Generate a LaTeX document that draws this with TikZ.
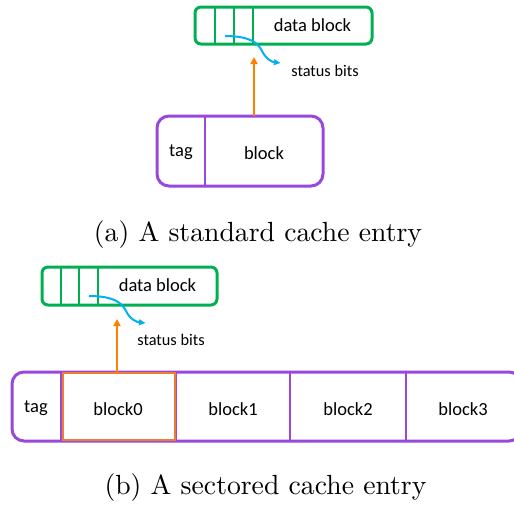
\documentclass[tikz,border=0pt]{standalone}
\usepackage{fontspec}
\newfontfamily\carlitofont{Carlito}
\newfontfamily\lmtenfont{lmroman10-regular.otf}
\usetikzlibrary{arrows.meta}
\definecolor{mygreen}{RGB}{0,176,80}
\definecolor{mypurple}{RGB}{153,72,222}
\definecolor{myorange}{RGB}{237,125,49}
\definecolor{myorange2}{RGB}{255,128,0}
\definecolor{myblue}{RGB}{0,176,240}
\begin{document}
\begin{tikzpicture}[x=1pt,y=-1pt,
  gbox/.style={draw=mygreen,line width=3pt,rounded corners=6pt,inner sep=0pt},
  pbox/.style={draw=mypurple,line width=3pt,rounded corners=12pt,inner sep=0pt},
  gdiv/.style={draw=mygreen,line width=2.5pt},
  pdiv/.style={draw=mypurple,line width=2.5pt},
  lab/.style={font=\carlitofont\fontsize{18.5}{20}\selectfont,inner sep=0pt},
  slab/.style={font=\carlitofont\fontsize{16.3}{18}\selectfont,inner sep=0pt},
  captext/.style={font=\lmtenfont\fontsize{27.7}{32}\selectfont,inner sep=0pt},
  oarrow/.style={draw=myorange2,line width=2pt,-{Triangle[length=7pt,width=7pt]}},
  barrow/.style={draw=myblue,line width=2pt,-{Latex[length=7pt,width=7pt]}}]
\useasboundingbox (0,0) rectangle (514,509);
\clip (0,0) rectangle (514,509);
% ---------- (a) ----------
\node[gbox,minimum width=177pt,minimum height=37pt] (ga) at (283.5,25.5) {};
\draw[gdiv] (215,7) -- (215,44) (234,7) -- (234,44) (253,7) -- (253,44);
\node[lab] (gatext) at (312.5,25) {data block};
\coordinate (bas) at (225,36);
\coordinate (bae) at (281,63);
\draw[barrow] (bas) .. controls (250,36) and (258,43) .. (262,51) .. controls (266,59) and (272,62) .. (bae);
\node[slab] (sba) at (325,71) {status bits};
\node[pbox,minimum width=166pt,minimum height=70pt] (pa) at (240,151) {};
\draw[pdiv] (205,116) -- (205,186);
\node[lab] (taga) at (181,152) {tag};
\node[lab] (blka) at (264,153) {block};
\coordinate (oat) at (254,57);
\draw[oarrow] (254,116) -- (oat);
\node[captext] (capa) at (258,235) {(a) A standard cache entry};
% ---------- (b) ----------
\node[gbox,minimum width=175pt,minimum height=38pt] (gb) at (129.5,286) {};
\draw[gdiv] (61,267) -- (61,305) (79,267) -- (79,305) (98,267) -- (98,305);
\node[lab] (gbtext) at (157.5,285) {data block};
\coordinate (bbs) at (89,296);
\coordinate (bbe) at (146,323);
\draw[barrow] (bbs) .. controls (114,296) and (122,303) .. (126,311) .. controls (130,319) and (136,322) .. (bbe);
\node[slab] (sbb) at (171,340) {status bits};
\node[pbox,minimum width=509pt,minimum height=69pt] (pb) at (266.5,406.5) {};
\draw[pdiv] (61,372) -- (61,441) (176,372) -- (176,441) (290,372) -- (290,441) (406,372) -- (406,441);
\node[draw=myorange,line width=2.5pt,minimum width=112pt,minimum height=67pt,inner sep=0pt] (ob) at (119,406.5) {};
\node[lab] (tagb) at (36,408) {tag};
\node[lab] (b0) at (118,409) {block0};
\node[lab] (b1) at (233,409) {block1};
\node[lab] (b2) at (348,409) {block2};
\node[lab] (b3) at (463,409) {block3};
\coordinate (obt) at (117,319);
\draw[oarrow] (ob.north -| obt) -- (obt);
\node[captext] (capb) at (265.5,488) {(b) A sectored cache entry};
\end{tikzpicture}
\end{document}
